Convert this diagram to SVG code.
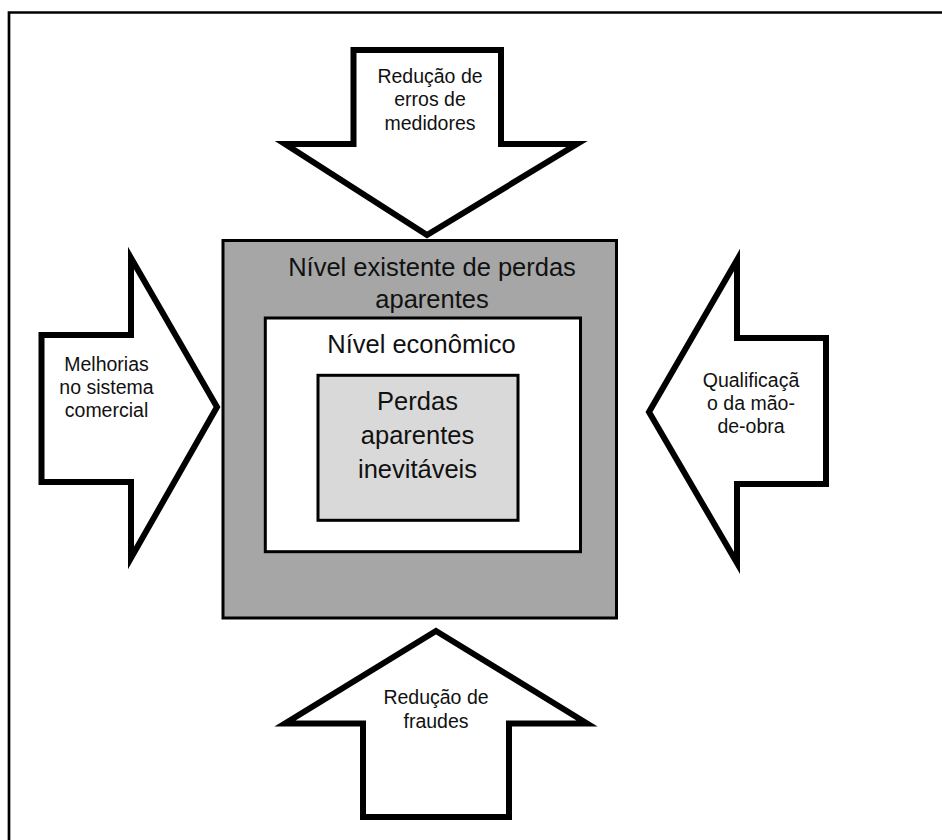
<svg xmlns="http://www.w3.org/2000/svg" width="942" height="840" viewBox="0 0 942 840">
<style>
.arrow{fill:#fff;stroke:#000;stroke-width:6;stroke-linejoin:miter;stroke-miterlimit:10}
.box{stroke:#000;stroke-width:3}
.sm{font-family:"Liberation Sans",Arial,sans-serif;font-size:19.5px;fill:#111;text-anchor:middle}
.lg{font-family:"Liberation Sans",Arial,sans-serif;font-size:25.5px;fill:#111;text-anchor:middle}
</style>
<rect width="942" height="840" fill="#fff"/>
<g id="frame" stroke="#000" stroke-width="2.7" fill="none">
<path d="M9 840 V12.5 H942"/>
</g>
<g id="connectors">
<g id="arrow-top">
<polygon class="arrow" points="353.5,50 501,50 501,144 577,144 427,235 285,144 353.5,144"/>
<text class="sm" x="430" y="83">Redução de</text>
<text class="sm" x="430" y="106">erros de</text>
<text class="sm" x="430" y="129.5">medidores</text>
</g>
<g id="arrow-left">
<polygon class="arrow" points="41.5,335 131,335 131,258 217,407 131,558 131,482 41.5,482"/>
<text class="sm" x="106.5" y="371">Melhorias</text>
<text class="sm" x="106.5" y="393.5">no sistema</text>
<text class="sm" x="106.5" y="416.5">comercial</text>
</g>
<g id="arrow-right">
<polygon class="arrow" points="826,338 737,338 737,260 649,412 737,563 737,484 826,484"/>
<text class="sm" x="751" y="386.5">Qualificaçã</text>
<text class="sm" x="751" y="409.5">o da mão-</text>
<text class="sm" x="751" y="433">de-obra</text>
</g>
<g id="arrow-bottom">
<polygon class="arrow" points="436,631 587,723.5 509,723.5 509,817 363,817 363,723.5 285,723.5"/>
<text class="sm" x="436" y="704">Redução de</text>
<text class="sm" x="436" y="727.5">fraudes</text>
</g>
</g>
<g id="node-existente">
<rect class="box" x="223" y="240.5" width="393.5" height="377.5" fill="#a6a6a6"/>
<text class="lg" x="432" y="276">Nível existente de perdas</text>
<text class="lg" x="432" y="308">aparentes</text>
</g>
<g id="node-economico">
<rect class="box" x="265.3" y="318" width="315.2" height="233.7" fill="#fff"/>
<text class="lg" x="421.5" y="353">Nível econômico</text>
</g>
<g id="node-inevitaveis">
<rect class="box" x="318" y="375.3" width="200" height="145" fill="#d9d9d9"/>
<text class="lg" x="417.5" y="410">Perdas</text>
<text class="lg" x="417.5" y="444">aparentes</text>
<text class="lg" x="417.5" y="478">inevitáveis</text>
</g>
</svg>
